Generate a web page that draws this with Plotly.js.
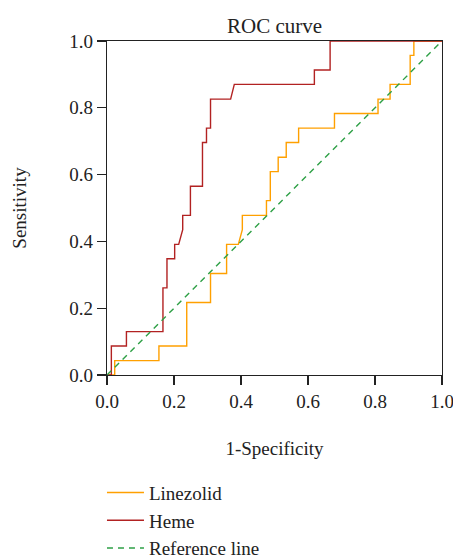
<!DOCTYPE html>
<html>
<head>
<meta charset="utf-8">
<script src="https://cdn.plot.ly/plotly-3.0.1.min.js"></script>
<style>html,body{margin:0;padding:0;background:#fff;}#chart{width:453px;height:559px;}</style>
</head>
<body>
<div id="chart"></div>
<script>
// ROC curve vertices (1-Specificity, Sensitivity)
var hemeFPR = [0, 0.013, 0.013, 0.058, 0.058, 0.167, 0.167, 0.179, 0.179, 0.202, 0.202, 0.214, 0.226, 0.226, 0.249, 0.249, 0.285, 0.285, 0.297, 0.297, 0.309, 0.309, 0.369, 0.380, 0.619, 0.619, 0.666, 0.666, 1];
var hemeTPR = [0, 0, 0.087, 0.087, 0.130, 0.130, 0.261, 0.261, 0.348, 0.348, 0.391, 0.391, 0.435, 0.478, 0.478, 0.565, 0.565, 0.696, 0.696, 0.739, 0.739, 0.826, 0.826, 0.870, 0.870, 0.913, 0.913, 1, 1];

var lineFPR = [0, 0.023, 0.023, 0.155, 0.155, 0.238, 0.238, 0.309, 0.309, 0.357, 0.357, 0.392, 0.404, 0.404, 0.476, 0.476, 0.4875, 0.4875, 0.511, 0.511, 0.535, 0.535, 0.572, 0.572, 0.679, 0.679, 0.809, 0.809, 0.845, 0.845, 0.905, 0.905, 0.916, 0.916, 1];
var lineTPR = [0, 0, 0.043, 0.043, 0.087, 0.087, 0.217, 0.217, 0.304, 0.304, 0.391, 0.391, 0.435, 0.478, 0.478, 0.522, 0.522, 0.609, 0.609, 0.652, 0.652, 0.696, 0.696, 0.739, 0.739, 0.783, 0.783, 0.826, 0.826, 0.870, 0.870, 0.957, 0.957, 1, 1];

var refX = [0, 1];
var refY = [0, 1];

var seriesNames = ['Linezolid', 'Heme', 'Reference line'];
var tickVals = [0, 0.2, 0.4, 0.6, 0.8, 1.0];
var tickText = ['0.0', '0.2', '0.4', '0.6', '0.8', '1.0'];

var FONT = 'Liberation Serif, Times New Roman, serif';

var traces = [
  {x: lineFPR, y: lineTPR, name: seriesNames[0], mode: 'lines', line: {color: '#ffa000', width: 1.4}},
  {x: hemeFPR, y: hemeTPR, name: seriesNames[1], mode: 'lines', line: {color: '#b22222', width: 1.4}},
  {x: refX, y: refY, name: seriesNames[2], mode: 'lines', line: {color: '#2ea046', width: 1.4, dash: '6px,5px'}}
];

var axisCommon = {
  range: [0, 1],
  tickvals: tickVals,
  ticktext: tickText,
  ticks: 'outside',
  ticklen: 9,
  tickwidth: 1.3,
  tickcolor: '#222',
  showline: true,
  linecolor: '#222',
  linewidth: 1.3,
  mirror: true,
  showgrid: false,
  zeroline: false,
  tickfont: {family: FONT, size: 19, color: '#222'}
};

var layout = {
  width: 453,
  height: 559,
  margin: {l: 107, r: 11, t: 41, b: 184, autoexpand: false},
  paper_bgcolor: '#fff',
  plot_bgcolor: '#fff',
  font: {family: FONT, size: 19, color: '#222'},
  title: {text: 'ROC curve', font: {family: FONT, size: 21, color: '#222'}, x: 0.5, xref: 'paper', xanchor: 'center', y: 0.955, yref: 'container', yanchor: 'middle'},
  xaxis: Object.assign({}, axisCommon, {ticklabeloverflow: 'allow', title: {text: '1-Specificity', font: {family: FONT, size: 19, color: '#222'}, standoff: 30}}),
  yaxis: Object.assign({}, axisCommon, {title: {text: 'Sensitivity', font: {family: FONT, size: 19, color: '#222'}, standoff: 37}}),
  showlegend: true,
  legend: {
    x: -0.015, xref: 'paper', xanchor: 'left',
    y: -0.2955, yref: 'paper', yanchor: 'top',
    orientation: 'v',
    font: {family: FONT, size: 19, color: '#222'},
    itemwidth: 37,
    bgcolor: 'rgba(0,0,0,0)'
  }
};

Plotly.newPlot('chart', traces, layout, {displayModeBar: false, staticPlot: true});
</script>
</body>
</html>
